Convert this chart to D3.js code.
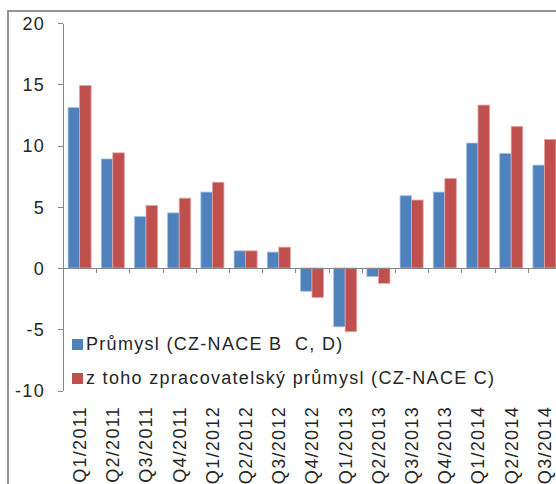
<!DOCTYPE html>
<html lang="cs">
<head>
<meta charset="utf-8">
<title>Průmysl – meziroční změna</title>
<style>
  body { margin: 0; background: #fff; }
  svg text { font-family: "Liberation Sans", Arial, sans-serif; font-size: 18px; fill: #262626; letter-spacing: 1.3px; }
  .axis path, .axis line { stroke: #868686; stroke-width: 1; shape-rendering: crispEdges; }
</style>
</head>
<body>
<svg width="556" height="484"></svg>
<script src="https://d3js.org/d3.v7.min.js"></script>
<script>
// Data
var quarters = ["Q1/2011","Q2/2011","Q3/2011","Q4/2011","Q1/2012","Q2/2012","Q3/2012","Q4/2012",
                "Q1/2013","Q2/2013","Q3/2013","Q4/2013","Q1/2014","Q2/2014","Q3/2014"];
var prumysl    = [13.1, 8.9, 4.2, 4.5, 6.2, 1.4, 1.3, -1.9, -4.8, -0.7, 5.9, 6.2, 10.2, 9.35, 8.4];
var zpracovat  = [14.9, 9.4, 5.1, 5.7, 7.0, 1.4, 1.7, -2.4, -5.2, -1.25, 5.55, 7.3, 13.3, 11.55, 10.5];
var seriesNames = ["Průmysl (CZ-NACE B\u00a0 C, D)", "z toho zpracovatelský průmysl (CZ-NACE C)"];
var seriesColors = ["#4F81BD", "#C0504D"];
var seriesStroke = ["#a9c0e0", "#e3a3a1"];
var yTicks = [-10, -5, 0, 5, 10, 15, 20];

var svg = d3.select("svg");

// outer frame (cut off on the right and bottom)
svg.append("rect")
    .attr("x", 8).attr("y", 11)
    .attr("width", 700).attr("height", 700)
    .attr("fill", "none")
    .attr("stroke", "#8a8a8a")
    .attr("stroke-width", 1.8);

var plotL = 63, plotR = 561, plotT = 23, plotB = 390.5;

var y = d3.scaleLinear().domain([-10, 20]).range([plotB, plotT]);
var x0 = d3.scaleBand().domain(quarters).range([plotL, plotR]).padding(0);
var x1 = d3.scaleBand().domain([0, 1]).range([0, x0.bandwidth()]).paddingInner(0).paddingOuter(0.44);
var xb = d3.scaleLinear().domain([0, quarters.length]).range([plotL, plotR]);

// bars
var rows = quarters.map(function(q, i) { return { q: q, v: [prumysl[i], zpracovat[i]] }; });
var groups = svg.selectAll("g.grp")
    .data(rows)
  .enter().append("g")
    .attr("class", "grp")
    .attr("transform", function(d) { return "translate(" + x0(d.q) + ",0)"; });

groups.selectAll("rect")
    .data(function(d) { return d.v.map(function(v, s) { return { s: s, v: v }; }); })
  .enter().append("rect")
    .attr("x", function(d) { return x1(d.s); })
    .attr("width", x1.bandwidth())
    .attr("y", function(d) { return y(Math.max(0, d.v)); })
    .attr("height", function(d) { return Math.abs(y(d.v) - y(0)); })
    .attr("fill", function(d) { return seriesColors[d.s]; })
    .attr("stroke", function(d) { return seriesStroke[d.s]; })
    .attr("stroke-width", 0.8);

// y axis (plain hyphen for negatives, like the original)
svg.append("g")
    .attr("class", "axis")
    .attr("transform", "translate(" + plotL + ",0)")
    .call(d3.axisLeft(y).tickValues(yTicks).tickSize(5).tickSizeOuter(0).tickPadding(13)
            .tickFormat(function(d) { return String(d); }))
    .selectAll("text").attr("fill", "#262626").attr("dy", "0.36em");

// x axis at zero with boundary ticks
svg.append("g")
    .attr("class", "axis")
    .attr("transform", "translate(0," + y(0) + ")")
    .call(d3.axisBottom(xb).tickValues(d3.range(1, quarters.length + 1)).tickSize(5).tickSizeOuter(0).tickFormat(""));

// category labels at bottom of plot
var xl = svg.append("g")
    .attr("transform", "translate(0,406)")
    .call(d3.axisBottom(x0).tickSize(0));
xl.select(".domain").remove();
xl.selectAll("text")
    .attr("fill", "#262626")
    .attr("x", 0).attr("y", 0).attr("dy", "0.36em")
    .attr("transform", "rotate(-90)")
    .style("text-anchor", "end");

// legend
var legend = svg.selectAll("g.leg")
    .data(seriesNames)
  .enter().append("g")
    .attr("class", "leg")
    .attr("transform", function(d, i) { return "translate(72," + (339 + i * 34) + ")"; });
legend.append("rect")
    .attr("width", 11).attr("height", 11)
    .attr("fill", function(d, i) { return seriesColors[i]; });
legend.append("text")
    .attr("x", 14).attr("y", 11)
    .text(function(d) { return d; });
</script>
</body>
</html>
